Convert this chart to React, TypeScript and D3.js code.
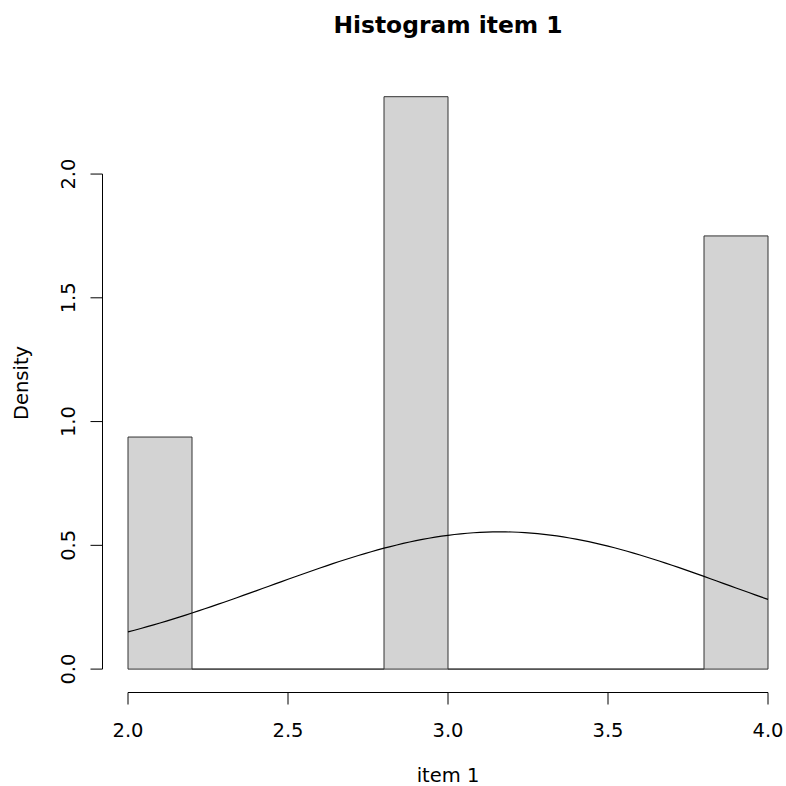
import React from "react";
import * as d3 from "d3";

const binEdges = [2.0, 2.2, 2.4, 2.6, 2.8, 3.0, 3.2, 3.4, 3.6, 3.8, 4.0];
const densities = [0.9375, 0, 0, 0, 2.3125, 0, 0, 0, 0, 1.75];
const xTicks = [2.0, 2.5, 3.0, 3.5, 4.0];
const yTicks = [0.0, 0.5, 1.0, 1.5, 2.0];
const normMean = 3.1625;
const normSd = 0.7194;
const title = "Histogram item 1";
const xLabel = "item 1";
const yLabel = "Density";

const W = 786, H = 786;
const plotL = 102.4, plotR = 793.6, plotT = 73.8, plotB = 692;

export default function App() {
  const x = d3.scaleLinear().domain([1.92, 4.08]).range([plotL, plotR]);
  const y = d3.scaleLinear().domain([-0.0925, 2.405]).range([plotB, plotT]);
  const font = "'DejaVu Sans', sans-serif";

  const bars = densities.map((d, i) => ({ x0: binEdges[i], x1: binEdges[i + 1], d }));

  const xs = d3.range(0, 101).map((i) => 2 + (i * 2) / 100);
  const dnorm = (v: number) =>
    Math.exp(-0.5 * ((v - normMean) / normSd) ** 2) / (normSd * Math.sqrt(2 * Math.PI));
  const line = d3
    .line<number>()
    .x((v) => x(v))
    .y((v) => y(dnorm(v)));

  const axisY = 692.5;
  const axisX = 102.5;
  const tick = 12;

  return (
    <svg
      width={W}
      height={H}
      style={{ position: "fixed", left: 0, top: 0, background: "#fff" }}
      fontFamily={font}
    >
      <rect width={W} height={H} fill="#fff" />
      <text x={448} y={33} textAnchor="middle" fontWeight="bold" fontSize={23.4} fill="#000">
        {title}
      </text>
      {bars.map((b, i) => {
        const x0 = x(b.x0), x1 = x(b.x1), y0 = y(0), y1 = y(b.d);
        return (
          <path
            key={i}
            d={`M${x0},${y0}L${x0},${y1}L${x1},${y1}L${x1},${y0}Z`}
            fill="#d3d3d3"
            stroke="#333"
            strokeWidth={1}
          />
        );
      })}
      <path d={line(xs) || ""} fill="none" stroke="#000" strokeWidth={1.2} />
      {/* x axis */}
      <line x1={x(xTicks[0])} x2={x(xTicks[xTicks.length - 1])} y1={axisY} y2={axisY} stroke="#000" />
      {xTicks.map((t) => (
        <g key={t}>
          <line x1={x(t)} x2={x(t)} y1={axisY} y2={axisY + tick} stroke="#000" />
          <text x={x(t)} y={737} textAnchor="middle" fontSize={19.5} fill="#000">
            {t.toFixed(1)}
          </text>
        </g>
      ))}
      {/* y axis */}
      <line x1={axisX} x2={axisX} y1={y(yTicks[0])} y2={y(yTicks[yTicks.length - 1])} stroke="#000" />
      {yTicks.map((t) => (
        <g key={t}>
          <line x1={axisX} x2={axisX - tick} y1={y(t)} y2={y(t)} stroke="#000" />
          <text
            transform={`translate(75,${y(t)}) rotate(-90)`}
            textAnchor="middle"
            fontSize={19.5}
            fill="#000"
          >
            {t.toFixed(1)}
          </text>
        </g>
      ))}
      <text x={448} y={782} textAnchor="middle" fontSize={19.5} fill="#000">
        {xLabel}
      </text>
      <text transform={`translate(28,383) rotate(-90)`} textAnchor="middle" fontSize={19.5} fill="#000">
        {yLabel}
      </text>
    </svg>
  );
}
